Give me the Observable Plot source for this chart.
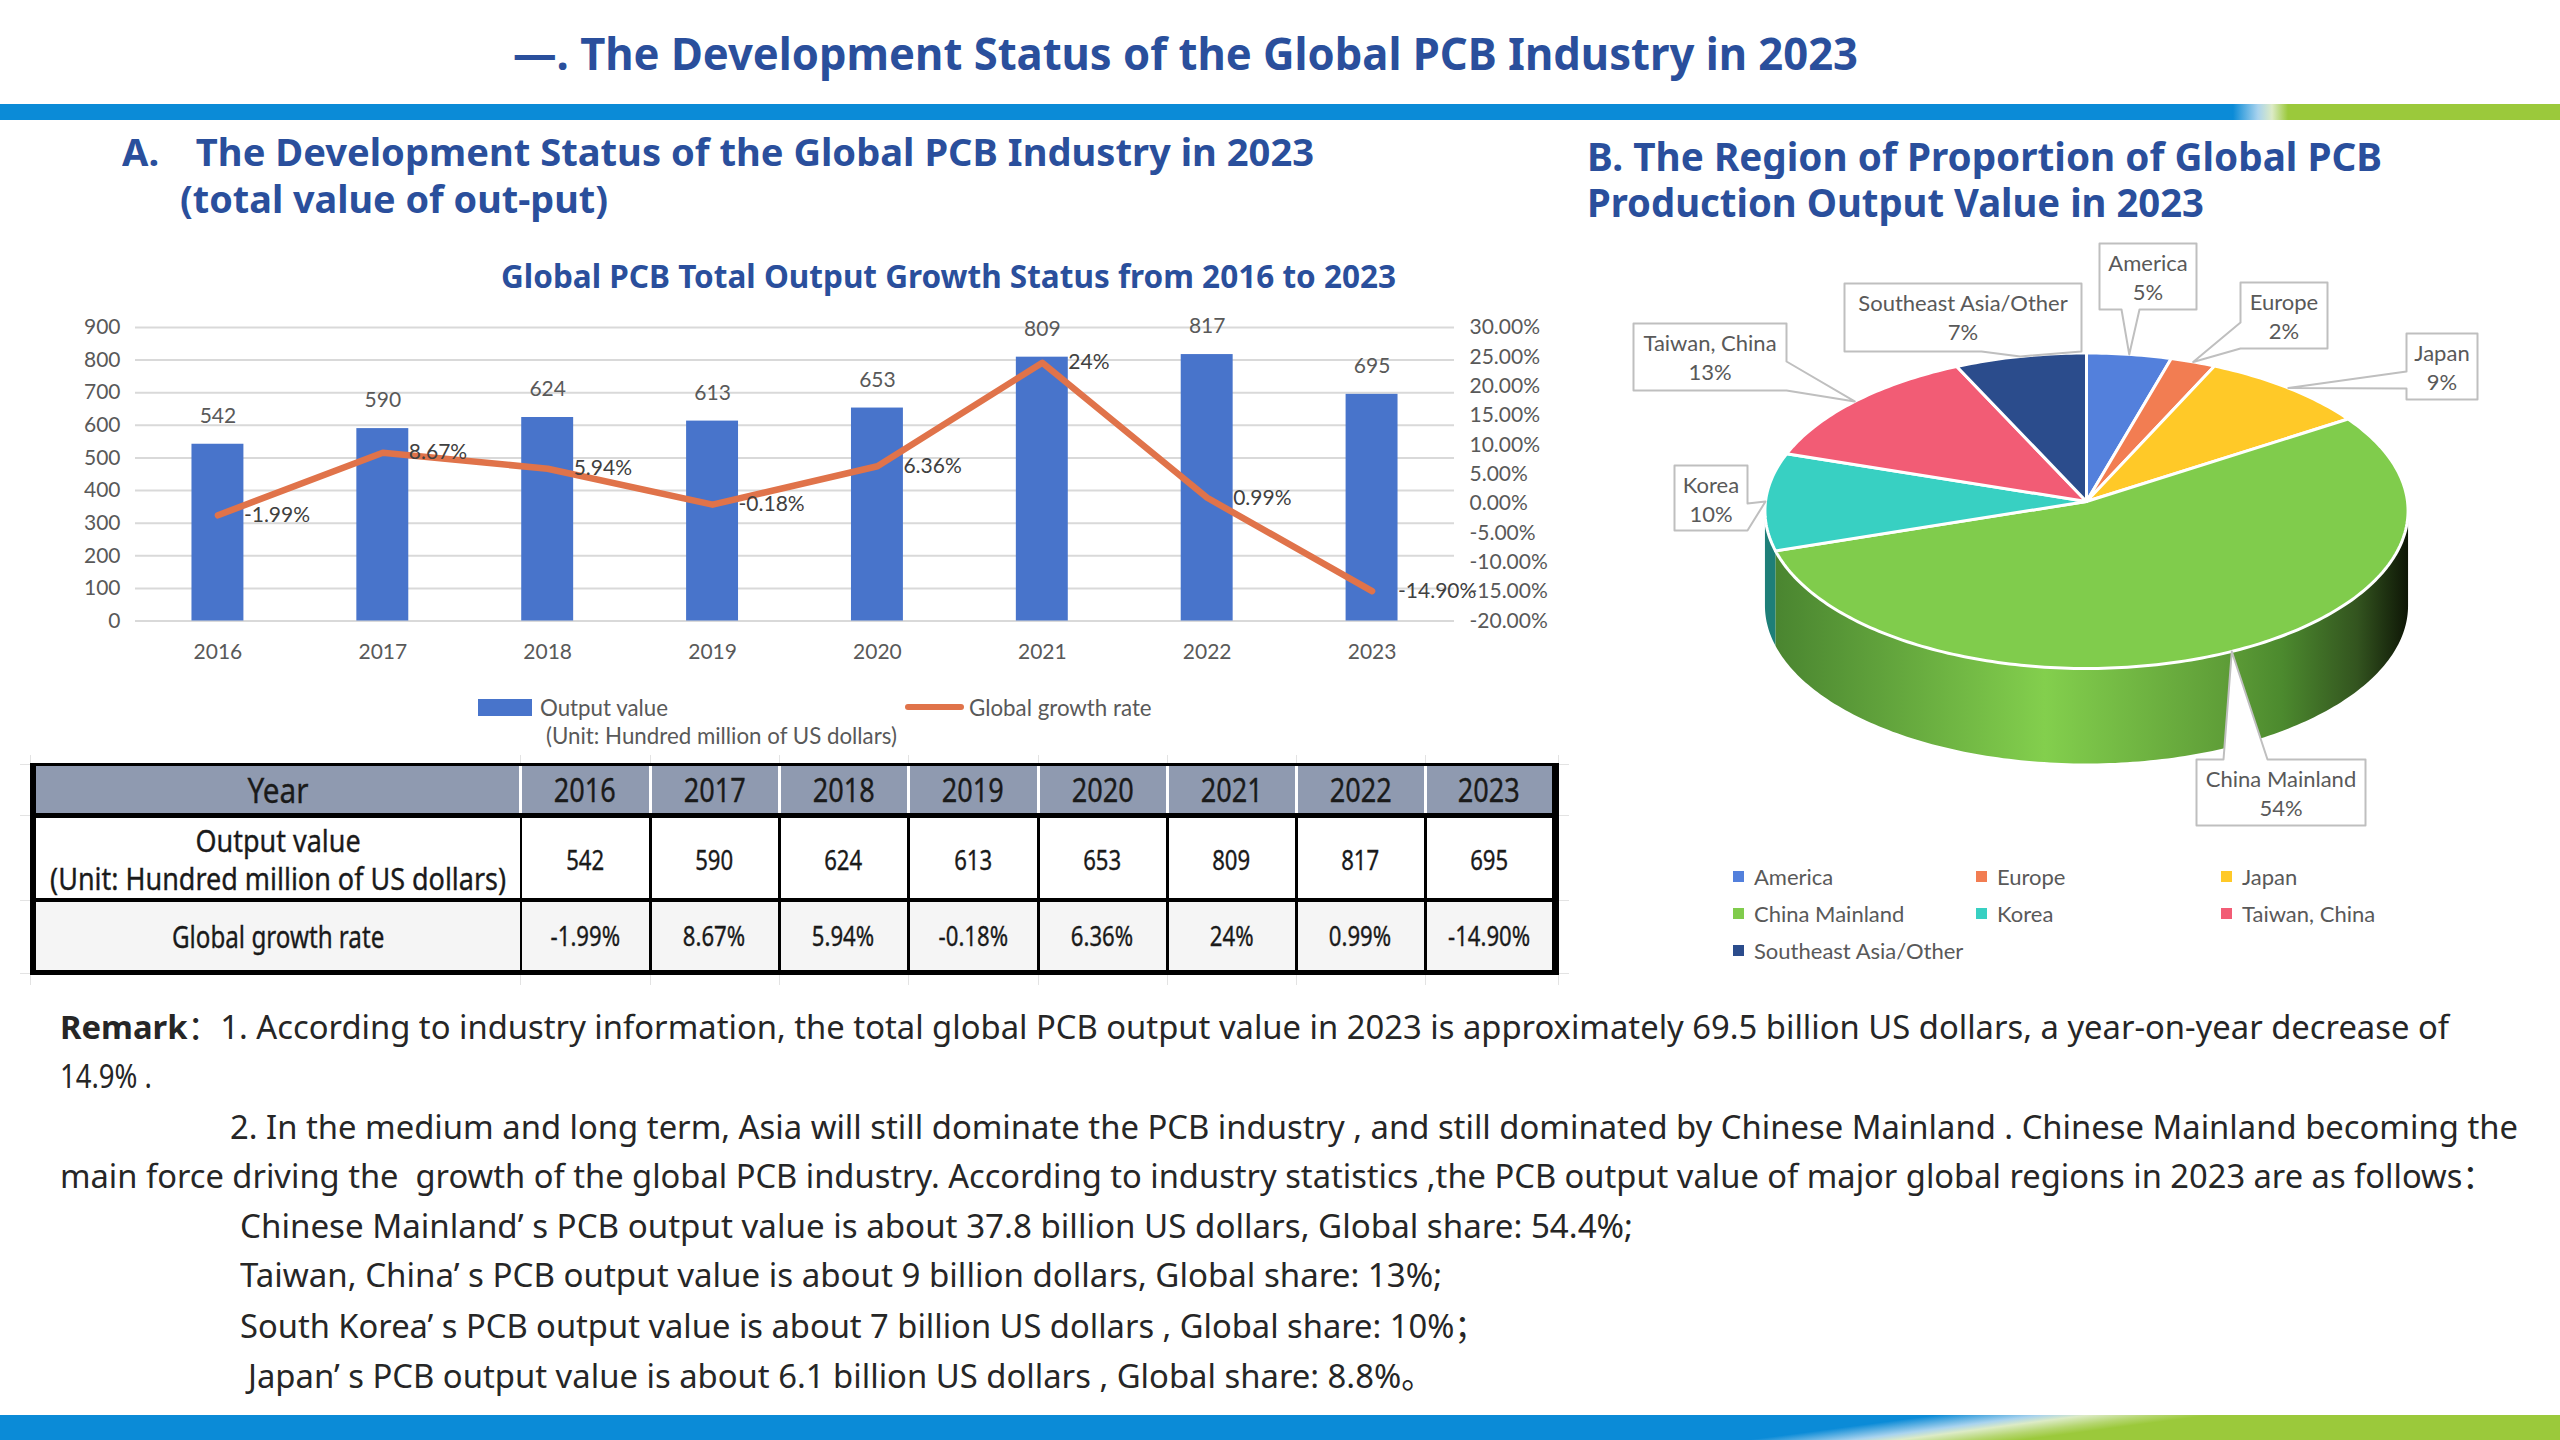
<!DOCTYPE html>
<html><head><meta charset="utf-8">
<script src="https://cdn.jsdelivr.net/npm/d3@7"></script>
<script src="https://cdn.jsdelivr.net/npm/@observablehq/plot@0.6"></script>
<style>
html,body{margin:0;padding:0;background:#fff}
#page{position:relative;width:2560px;height:1440px;overflow:hidden;background:#fff;font-family:"Noto Sans","Noto Sans CJK SC",sans-serif}
.t{position:absolute;white-space:pre;transform-origin:left center;line-height:1.2}
.h{font-weight:700;color:#2A4F9C}
.r{color:#262626;font-size:33px}
.c{font-family:Lato,sans-serif;color:#595959}
.abs{position:absolute}
.cell{position:absolute;display:flex;align-items:center;justify-content:center;text-align:center;color:#1a1a1a;box-sizing:border-box;-webkit-text-stroke:0.35px #1a1a1a}
.cell span{display:inline-block;white-space:pre;line-height:38px}
#pieLegend{position:absolute;left:1733px;top:858px;display:grid;grid-template-columns:243px 245px 245px;grid-auto-rows:37px;font-family:Lato,sans-serif;font-size:22px;color:#595959}
#pieLegend div{display:flex;align-items:center;gap:10px}
#pieLegend i{width:11px;height:11px;display:inline-block}
</style></head>
<body><div id="page"></div>
<script>
// ---------- data ----------
const years = ["2016","2017","2018","2019","2020","2021","2022","2023"];
const outputValue = [542,590,624,613,653,809,817,695];
const growthRate = [-1.99,8.67,5.94,-0.18,6.36,24,0.99,-14.90];
const growthLabels = ["-1.99%","8.67%","5.94%","-0.18%","6.36%","24%","0.99%","-14.90%"];
const leftTicks = [0,100,200,300,400,500,600,700,800,900];
const rightTicks = [-20,-15,-10,-5,0,5,10,15,20,25,30];
const regions = ["America","Europe","Japan","China Mainland","Korea","Taiwan, China","Southeast Asia/Other"];
const shares = [4.5,2.4,9,54.1,10,13,7];
const regionColors = ["#5380DC","#F27D52","#FFC928","#80CC4C","#38D0C2","#F25C75","#2B4C8C"];
const remarkLines = [
 "：1. According to industry information, the total global PCB output value in 2023 is approximately 69.5 billion US dollars, a year-on-year decrease of",
 "14.9% .",
 "2. In the medium and long term, Asia will still dominate the PCB industry , and still dominated by Chinese Mainland . Chinese Mainland becoming the",
 "main force driving the  growth of the global PCB industry. According to industry statistics ,the PCB output value of major global regions in 2023 are as follows：",
 "Chinese Mainland’ s PCB output value is about 37.8 billion US dollars, Global share: 54.4%;",
 "Taiwan, China’ s PCB output value is about 9 billion dollars, Global share: 13%;",
 "South Korea’ s PCB output value is about 7 billion US dollars , Global share: 10%；",
 "Japan’ s PCB output value is about 6.1 billion US dollars , Global share: 8.8%。"
];
// ---------- layout ----------
const remarkBoxes = [[60,2449],[60,152],[230,2518],[60,2495],[240,1633],[240,1442],[240,1487],[248,1434]];
const remarkY = [1027,1076,1127,1176,1226,1275,1326,1376];
const calloutLayout = {
 "America":{box:[2099,243,2196,309],side:"bottom",base:[[2121,309],[2139,309]]},
 "Europe":{box:[2240,282,2327,348],side:"left",base:[[2240,322],[2240,348]]},
 "Japan":{box:[2406,333,2477,399],side:"left",base:[[2406,371],[2406,388]]},
 "China Mainland":{box:[2196,759,2365,825],side:"top",base:[[2223,759],[2267,759]]},
 "Korea":{box:[1674,465,1747,530],side:"right",base:[[1747,503],[1747,530]]},
 "Taiwan, China":{box:[1633,323,1786,390],side:"right",base:[[1786,361],[1786,390]]},
 "Southeast Asia/Other":{box:[1844,283,2081,351],side:"bottom",base:[[1981,351],[2081,351]]}
};
const pie = {cx:2086,cy:501,a:157.2,b:321,k:0.0587,drop:95};

const page = document.getElementById("page");
function add(html,style,cls,width){
  const e=document.createElement("div");e.className=cls||"abs";e.style.cssText=style;e.innerHTML=html;page.appendChild(e);
  if(width){const w=e.getBoundingClientRect().width;e.style.transform="scaleX("+(width/w)+")";}
  return e;
}
function label(html,x,cy,width,size,cls,extra){ // text centred vertically on cy
  const h=size*1.2;
  return add(html,`left:${x}px;top:${cy-h/2}px;font-size:${size}px;${extra||""}`,"t "+cls,width);
}
// ---------- bands ----------
add(`<div style="height:16px;background:linear-gradient(90deg,#0B8BD7 0,#0B8BD7 2233px,#A9D3EE 2258px,#DCEBC6 2272px,#9BC93B 2288px,#9BC93B 100%)"></div>`,"left:0;top:104px;width:2560px");
add(`<svg width="2560" height="25" style="display:block"><defs><linearGradient id="bb" gradientUnits="userSpaceOnUse" x1="1937" y1="0" x2="1941.7" y2="35.6">
<stop offset="0" stop-color="#0B8BD7"/><stop offset=".38" stop-color="#A9D3EE"/><stop offset=".55" stop-color="#DCEBC6"/><stop offset=".8" stop-color="#B5D670"/><stop offset="1" stop-color="#9BC93B"/></linearGradient></defs>
<rect width="2560" height="25" fill="url(#bb)"/></svg>`,"left:0;top:1415px");
// ---------- headings ----------
label("—. The Development Status of the Global PCB Industry in 2023",513,53,1345,44,"h");
label('A.   <span style="margin-left:7px">The Development Status of the Global PCB Industry in 2023</span>',122,152,1192,38,"h");
label("(total value of out-put)",180,199,428,38,"h","background:#fff;");
label("B. The Region of Proportion of Global PCB",1587,156,795,39,"h");
label("Production Output Value in 2023",1587,202,617,39,"h","background:#fff;");
label("Global PCB Total Output Growth Status from 2016 to 2023",501,276,895,32,"h");
// ---------- left chart ----------
const rows = years.map((year,i)=>({year,value:outputValue[i],rate:growthRate[i],rateLabel:growthLabels[i]}));
const rateToY = r => (r+20)*18; // secondary axis mapped on the primary scale
const chart = Plot.plot({
  width:1560,height:400,marginLeft:135,marginRight:106,marginTop:27,marginBottom:79.5,
  style:{fontFamily:"Lato,sans-serif",fontSize:"21px",color:"#595959",background:"transparent",overflow:"visible"},
  x:{domain:years,paddingInner:0.685,paddingOuter:0.3425,round:false,label:null},
  y:{domain:[0,900],label:null},
  marks:[
    Plot.ruleY(leftTicks,{stroke:"#D9D9D9",strokeWidth:2,strokeOpacity:1}),
    Plot.barY(rows,{x:"year",y:"value",fill:"#4874CB"}),
    Plot.line(rows,{x:"year",y:d=>rateToY(d.rate),stroke:"#E0734A",strokeWidth:6.5}),
    Plot.axisY(leftTicks,{anchor:"left",tickSize:0,tickPadding:15,label:null}),
    Plot.axisY(rightTicks.map(rateToY),{anchor:"right",tickSize:0,tickPadding:15,label:null,textAnchor:"start",
      tickFormat:v=>(v/18-20).toFixed(2)+"%"}),
    Plot.axisX({tickSize:0,tickPadding:23,label:null}),
    Plot.text(rows,{x:"year",y:"value",text:d=>String(d.value),dy:-28}),
    Plot.text(rows,{x:"year",y:d=>rateToY(d.rate),text:"rateLabel",textAnchor:"start",dx:26,fill:"#404040"})
  ]
});
chart.style.position="absolute";chart.style.left="0";chart.style.top="300px";
page.appendChild(chart);
// chart legend
add("","left:478px;top:699px;width:54px;height:17px;background:#4874CB");
add("","left:905px;top:704px;width:59px;height:6px;background:#E0734A;border-radius:3px");
label("Output value",540,708,null,22.3,"c");
label("Global growth rate",969,708,null,22.3,"c");
label("(Unit: Hundred million of US dollars)",546,736,null,22.3,"c");
// ---------- table ----------
const colX=[36,520,650,779,908,1038,1167,1296,1425,1553];
const rowSpan=[[766,813],[818,898],[902,970]];
add("","left:30px;top:763px;width:1529px;height:212px;background:#000");
const tableText=(txt,c,r,size,sx,bg,dy=0)=>{
  const [y0,y1]=rowSpan[r];
  return add(`<span style="transform:scaleX(${sx}) translateY(${dy}px);font-size:${size}px">${txt}</span>`,
   `left:${colX[c]+(c>0?1.5:0)}px;top:${y0}px;width:${colX[c+1]-colX[c]-(c>0?3:0)}px;height:${y1-y0}px;background:${bg}`,"cell");
};
tableText("Year",0,0,35,0.85,"#8F9AB0");
tableText("Output value\n(Unit: Hundred million of US dollars)",0,1,31,0.87,"#fff",1);
tableText("Global growth rate",0,2,31,0.78,"#F5F5F5");
years.forEach((y,i)=>{
  tableText(y,i+1,0,33,0.82,"#8F9AB0");
  tableText(String(outputValue[i]),i+1,1,27,0.82,"#fff",2);
  tableText(growthLabels[i],i+1,2,27,0.82,"#F5F5F5");
});
// white separators in the table header
colX.slice(1,-1).forEach(x=>add("",`left:${x-1.5}px;top:766px;width:3px;height:47px;background:#fff`));
// faint sheet gridlines around the table
colX.slice(1,-1).concat([30,1558]).forEach(x=>{add("",`left:${x}px;top:755px;width:1px;height:8px;background:#E3E3E3`);add("",`left:${x}px;top:975px;width:1px;height:10px;background:#E3E3E3`);});
[764,815,900,973].forEach(y=>{add("",`left:20px;top:${y}px;width:10px;height:1px;background:#E3E3E3`);add("",`left:1559px;top:${y}px;width:10px;height:1px;background:#E3E3E3`);});
// ---------- pie ----------
const total=d3.sum(shares);
let acc=0;
const slices=regions.map((name,i)=>{const a0=acc/total*360;acc+=shares[i];return {name,share:shares[i],color:regionColors[i],a0,a1:acc/total*360};});
function rim(deg,drop=0){const t=deg*Math.PI/180,X=Math.sin(t),Y=Math.cos(t),w=1+pie.k*Y;return {x:pie.cx+pie.b*X/w,y:pie.cy-pie.a*Y/w+drop};}
const arcRange=(a0,a1)=>{const n=Math.max(2,Math.ceil(Math.abs(a1-a0)));return d3.range(n+1).map(i=>a0+(a1-a0)*i/n);};
const slicePts=slices.flatMap(s=>[{x:pie.cx,y:pie.cy,name:s.name},...arcRange(s.a0,s.a1).map(a=>({...rim(a),name:s.name}))]);
const frontFrom=90+Math.asin(pie.k)*180/Math.PI, frontTo=270-Math.asin(pie.k)*180/Math.PI;
function wall(a0,a1){const top=arcRange(a0,a1);return [...top.map(a=>rim(a)),...top.slice().reverse().map(a=>rim(a,pie.drop))];}
const china=slices[3],korea=slices[4];
const wallChina=wall(Math.max(china.a0,frontFrom),china.a1);
const wallKorea=wall(korea.a0,Math.min(korea.a1,frontTo));
const callouts=slices.map(s=>{
  const L=calloutLayout[s.name],[x0,y0,x1,y1]=L.box,[b1,b2]=L.base,tip=rim((s.a0+s.a1)/2);
  const TL=[x0,y0],TR=[x1,y0],BR=[x1,y1],BL=[x0,y1],T=[tip.x,tip.y];
  const seq={top:[TL,b1,T,b2,TR,BR,BL],right:[TL,TR,b1,T,b2,BR,BL],bottom:[TL,TR,BR,b2,T,b1,BL],left:[TL,TR,BR,BL,b2,T,b1]}[L.side];
  return {name:s.name,share:s.share,cx:(x0+x1)/2,y0,pts:seq.map(p=>({x:p[0],y:p[1],name:s.name}))};
});
const pieDefs=()=>{
  const d=d3.create("svg:defs"),g=d.append("linearGradient").attr("id","wallGrad");
  [[0,"#4A8530"],[.426,"#83CF4D"],[.707,"#5F9E38"],[.80,"#4C8A2E"],[.92,"#33541F"],[1,"#0E1606"]].forEach(([o,c])=>g.append("stop").attr("offset",o).attr("stop-color",c));
  return d.node();
};
const piePlot=Plot.plot({
  width:980,height:640,margin:0,
  style:{fontFamily:"Lato,sans-serif",background:"transparent",overflow:"visible"},
  x:{domain:[1580,2560],range:[0,980],axis:null},
  y:{domain:[230,870],range:[0,640],axis:null},
  color:{domain:regions,range:regionColors},
  marks:[
    pieDefs,
    Plot.line(wallKorea,{x:"x",y:"y",curve:"linear-closed",fill:"#1E7F78"}),
    Plot.line(wallChina,{x:"x",y:"y",curve:"linear-closed",fill:"url(#wallGrad)"}),
    Plot.line(slicePts,{x:"x",y:"y",z:"name",fill:"name",stroke:"#fff",strokeWidth:3,curve:"linear-closed"}),
    Plot.line(callouts.flatMap(c=>c.pts),{x:"x",y:"y",z:"name",fill:"#fff",stroke:"#BFBFBF",strokeWidth:2,curve:"linear-closed"}),
    Plot.text(callouts,{x:"cx",y:d=>d.y0+20,text:"name",fontSize:22,fill:"#595959"}),
    Plot.text(callouts,{x:"cx",y:d=>d.y0+49,text:d=>Math.round(d.share)+"%",fontSize:22,fill:"#595959"})
  ]
});
piePlot.style.position="absolute";piePlot.style.left="1580px";piePlot.style.top="230px";
page.appendChild(piePlot);
const lg=document.createElement("div");lg.id="pieLegend";
lg.innerHTML=regions.map((r,i)=>`<div><i style="background:${regionColors[i]}"></i>${r}</div>`).join("");
page.appendChild(lg);
// ---------- remark ----------
remarkLines.forEach((txt,i)=>{
  const [x0,x1]=remarkBoxes[i];
  const html=i===0?`<b>Remark</b>`+txt:txt;
  label(html,x0,remarkY[i],x1-x0,33,"r");
});
</script></body></html>
